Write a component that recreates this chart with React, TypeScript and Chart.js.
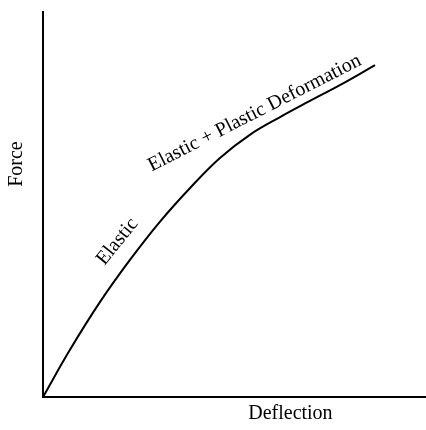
import React, { useEffect, useRef } from "react";
import { Chart, registerables } from "chart.js";

Chart.register(...registerables);

const deflection = [0, 7.0, 14.9, 22.7, 30.5, 38.4, 46.2, 54.0, 61.9, 69.7, 77.5, 86.7];
const force = [0, 12.2, 24.7, 35.6, 45.5, 54.3, 62.1, 68.1, 72.7, 76.9, 81.0, 86.2];

const xTitle = "Deflection";
const yTitle = "Force";
const labelElastic = "Elastic";
const labelPlastic = "Elastic + Plastic Deformation";

const FONT = '20px "Liberation Serif", "Times New Roman", serif';

const textPlugin = {
  id: "textPlugin",
  afterDraw(chart: any) {
    const ctx = chart.ctx;
    const xs = chart.scales.x;
    const ys = chart.scales.y;
    const area = chart.chartArea;
    ctx.save();
    ctx.fillStyle = "#000";
    ctx.font = FONT;
    ctx.textAlign = "center";
    ctx.textBaseline = "middle";
    // x title
    ctx.fillText(xTitle, xs.getPixelForValue(64.6), area.bottom + 17);
    // y title
    ctx.save();
    ctx.translate(area.left - 26, ys.getPixelForValue(60.5));
    ctx.rotate(-Math.PI / 2);
    ctx.fillText(yTitle, 0, 0);
    ctx.restore();
    // Elastic label
    ctx.save();
    ctx.translate(xs.getPixelForValue(20.5), ys.getPixelForValue(39.5));
    ctx.rotate((-51 * Math.PI) / 180);
    ctx.textBaseline = "alphabetic";
    ctx.fillText(labelElastic, 0, 0);
    ctx.restore();
    // Elastic + Plastic label
    ctx.save();
    ctx.translate(xs.getPixelForValue(55.9), ys.getPixelForValue(72.5));
    ctx.rotate((-27 * Math.PI) / 180);
    ctx.textBaseline = "alphabetic";
    ctx.fillText(labelPlastic, 0, 0);
    ctx.restore();
    ctx.restore();
  },
};

export default function App() {
  const ref = useRef<HTMLCanvasElement | null>(null);
  useEffect(() => {
    document.body.style.margin = "0";
    const canvas = ref.current!;
    const chart = new Chart(canvas, {
      type: "line",
      data: {
        datasets: [
          {
            data: deflection.map((x, i) => ({ x, y: force[i] })),
            borderColor: "#000",
            borderWidth: 2,
            pointRadius: 0,
            tension: 0.4,
            fill: false,
          },
        ],
      },
      options: {
        animation: false,
        responsive: false,
        devicePixelRatio: 1,
        layout: { padding: { left: 43, top: 12, right: 0, bottom: 33 } },
        plugins: { legend: { display: false }, tooltip: { enabled: false }, title: { display: false } },
        scales: {
          x: {
            type: "linear",
            min: 0,
            max: 100,
            grid: { display: false, drawTicks: false },
            ticks: { display: false },
            border: { display: true, color: "#000", width: 2 },
          },
          y: {
            type: "linear",
            min: 0,
            max: 100,
            grid: { display: false, drawTicks: false },
            ticks: { display: false },
            border: { display: true, color: "#000", width: 2 },
          },
        },
      },
      plugins: [textPlugin],
    });
    return () => chart.destroy();
  }, []);
  return (
    <div style={{ width: 426, height: 430 }}>
      <canvas ref={ref} width={426} height={430} style={{ display: "block" }} />
    </div>
  );
}
